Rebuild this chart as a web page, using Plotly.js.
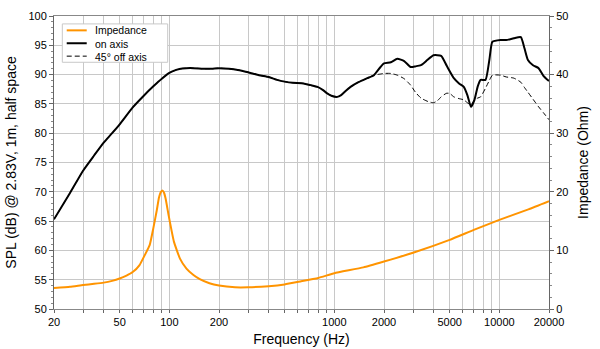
<!DOCTYPE html>
<html><head><meta charset="utf-8">
<script src="https://cdn.plot.ly/plotly-3.0.1.min.js"></script>
<style>html,body{margin:0;padding:0;background:#fff}#chart{width:600px;height:349px}</style>
</head><body><div id="chart"></div>
<script>
var onFreq = [20,25,30,35,40,45,50,60,70,80,90,100,110,120,140,160,180,200,230,260,300,350,400,450,500,560,650,720,790,850,905,960,1040,1100,1180,1254,1400,1584,1737,1906,2000,2200,2410,2650,2900,3100,3350,3600,3990,4440,4800,5300,5700,6090,6400,6730,7070,7400,7700,8250,8700,9080,10200,11000,12240,13500,14200,14900,16000,17300,18500,20000];
var onSPL = [65.3,69.8,73.6,76.2,78.4,80.0,81.5,84.4,86.4,88.0,89.3,90.3,90.8,91.05,91.1,91.0,91.0,91.1,91.0,90.8,90.4,89.9,89.6,89.1,88.8,88.6,88.5,88.2,87.9,87.4,86.8,86.4,86.2,86.5,87.3,87.9,88.7,89.4,89.9,91.3,91.9,92.1,92.7,92.3,91.3,91.4,91.6,92.3,93.3,93.2,91.5,89.4,88.5,87.9,86.5,84.5,85.7,88.0,89.1,89.1,92.5,95.6,95.9,95.9,96.2,96.4,94.5,92.5,91.6,91.1,89.8,88.9];
var offFreq = [1737,1906,2000,2200,2410,2650,2900,3100,3350,3700,3990,4200,4440,4770,5000,5300,5700,6090,6400,6730,7070,7400,7700,8250,8700,9080,10200,11000,12240,13500,14200,14900,16000,17300,18500,20000];
var offSPL = [89.9,90.1,90.2,90.2,89.9,89.3,88.2,87.0,86.0,85.4,85.2,85.5,86.2,86.8,86.8,86.2,85.9,85.7,85.2,84.8,85.7,86.0,86.2,87.7,89.0,89.9,89.9,89.6,89.4,88.7,87.8,87.0,85.8,84.5,83.5,82.3];
var impFreq = [20,25,30,35,40,45,50,55,60,66,71,76,80,84,86.5,89,91,93,95,99.3,106.6,116,127,140,153,175,200,250,300,400,500,623,800,1000,1500,2000,3000,5000,7000,10000,15000,20000];
var impOhm = [3.6,3.8,4.1,4.3,4.5,4.8,5.2,5.7,6.3,7.5,9.2,10.9,13.8,16.9,19.0,20.0,20.2,19.8,18.8,15.8,11.5,8.6,6.9,5.8,5.1,4.4,4.0,3.7,3.7,3.9,4.2,4.7,5.3,6.1,7.1,8.1,9.6,11.8,13.5,15.2,17.0,18.4];
var gridVals = [20,30,40,50,60,70,80,90,100,200,300,400,500,600,700,800,900,1000,2000,3000,4000,5000,6000,7000,8000,9000,10000,20000];
var labelVals = [20,50,100,200,1000,2000,5000,10000,20000];
var seriesNames = ['Impedance', 'on axis', '45° off axis'];

// off-axis follows on-axis below 1737 Hz
var offF = [], offS = [];
for (var i = 0; i < onFreq.length; i++) { if (onFreq[i] < 1737) { offF.push(onFreq[i]); offS.push(onSPL[i]); } }
offF = offF.concat(offFreq); offS = offS.concat(offSPL);

var tickText = gridVals.map(function(v){ return labelVals.indexOf(v) >= 0 ? String(v) : ''; });
var styles = [
  {color: '#ff9400', width: 2},
  {color: '#000', width: 2},
  {color: '#000', width: 1, dash: '5px,3px'}
];

var traces = [
  {x: impFreq, y: impOhm, yaxis: 'y2', name: seriesNames[0], mode: 'lines', line: {color: styles[0].color, width: 2, shape: 'spline', smoothing: 0.4}},
  {x: onFreq, y: onSPL, name: seriesNames[1], mode: 'lines', line: {color: styles[1].color, width: 2, shape: 'spline', smoothing: 0.5}},
  {x: offF, y: offS, name: seriesNames[2], mode: 'lines', line: {color: styles[2].color, width: 1, dash: styles[2].dash, shape: 'spline', smoothing: 0.5}}
];

// custom compact legend (paper coordinates)
var shapes = [{type: 'rect', xref: 'paper', yref: 'paper', x0: 0.0168, x1: 0.2297, y0: 0.842, y1: 0.973,
  fillcolor: '#fff', line: {color: '#c8c8c8', width: 1}, layer: 'above'}];
var rowY = [0.951, 0.907, 0.863];
for (var k = 0; k < seriesNames.length; k++) {
  shapes.push({type: 'line', xref: 'paper', yref: 'paper', x0: 0.0257, x1: 0.0661, y0: rowY[k], y1: rowY[k],
    line: {color: styles[k].color, width: styles[k].width, dash: styles[k].dash || 'solid'}, layer: 'above'});
}
var annotations = [{xref: 'paper', yref: 'paper', x: 0.0800, y: rowY[1], xanchor: 'left', yanchor: 'middle', align: 'left',
  text: seriesNames.join('<br>'), showarrow: false, borderpad: 0, font: {size: 10.5, color: '#000'}}];

var layout = {
  width: 600, height: 349,
  margin: {l: 54, r: 51, t: 16, b: 40},
  paper_bgcolor: '#fff', plot_bgcolor: '#fff',
  font: {family: 'Liberation Sans, Arial, sans-serif', size: 11, color: '#000'},
  showlegend: false,
  shapes: shapes, annotations: annotations,
  xaxis: {type: 'log', range: [Math.log10(20), Math.log10(20000)], tickmode: 'array', tickvals: gridVals, ticktext: tickText,
    showgrid: true, gridcolor: '#c8c8c8', gridwidth: 1, ticks: 'outside', ticklen: 3, tickcolor: '#666',
    showline: true, linecolor: '#888', mirror: true, zeroline: false,
    title: {text: 'Frequency (Hz)', font: {size: 14}, standoff: 6}, tickfont: {size: 11}},
  yaxis: {range: [50, 100], dtick: 5, showgrid: true, gridcolor: '#c8c8c8', ticks: 'outside', ticklen: 4, tickcolor: '#666',
    minor: {dtick: 1, ticks: 'outside', ticklen: 2, tickcolor: '#888', showgrid: false},
    showline: true, linecolor: '#666', zeroline: false,
    title: {text: 'SPL (dB) @ 2.83V, 1m, half space', font: {size: 14}, standoff: 8}, tickfont: {size: 11}},
  yaxis2: {range: [0, 50], dtick: 10, overlaying: 'y', side: 'right', showgrid: false, ticks: 'outside', ticklen: 4, tickcolor: '#666',
    minor: {dtick: 2, ticks: 'outside', ticklen: 2, tickcolor: '#888'},
    showline: true, linecolor: '#666', zeroline: false,
    title: {text: 'Impedance (Ohm)', font: {size: 14}, standoff: 10}, tickfont: {size: 11}}
};
Plotly.newPlot('chart', traces, layout, {displayModeBar: false, staticPlot: true});
</script></body></html>
